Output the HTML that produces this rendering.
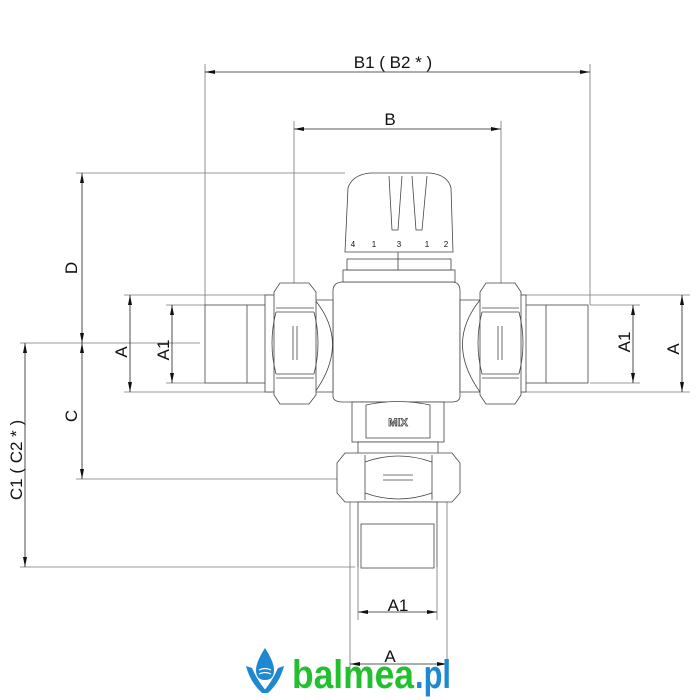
<!DOCTYPE html>
<html><head><meta charset="utf-8"><style>
body{margin:0;background:#fff;width:700px;height:700px;overflow:hidden}
svg{display:block}
text{font-family:"Liberation Sans",sans-serif}
</style></head><body>
<svg width="700" height="700" viewBox="0 0 700 700" xmlns="http://www.w3.org/2000/svg">
<defs>
<marker id="ar" viewBox="0 0 10 4" refX="10" refY="2" markerWidth="10" markerHeight="4" orient="auto-start-reverse" markerUnits="userSpaceOnUse"><path d="M0,0 L10,2 L0,4 z" fill="#111"/></marker>
</defs>
<g stroke="#777" stroke-width="0.8" fill="none">
<line x1="205" y1="64" x2="205" y2="305"/>
<line x1="590" y1="64" x2="590" y2="305"/>
<line x1="294" y1="121" x2="294" y2="290"/>
<line x1="501" y1="121" x2="501" y2="290"/>
<line x1="76" y1="173" x2="345" y2="173"/>
<line x1="20" y1="343" x2="200" y2="343"/>
<line x1="124" y1="295" x2="272" y2="295"/>
<line x1="124" y1="392" x2="272" y2="392"/>
<line x1="166" y1="305" x2="205" y2="305"/>
<line x1="166" y1="383" x2="205" y2="383"/>
<line x1="76" y1="479" x2="340" y2="479"/>
<line x1="20" y1="567" x2="355" y2="567"/>
<line x1="520" y1="295" x2="690" y2="295"/>
<line x1="520" y1="392" x2="690" y2="392"/>
<line x1="590" y1="305" x2="640" y2="305"/>
<line x1="590" y1="383" x2="640" y2="383"/>
<line x1="350" y1="500" x2="350" y2="672"/>
<line x1="447" y1="500" x2="447" y2="672"/>
<line x1="358" y1="567" x2="358" y2="620"/>
<line x1="437" y1="567" x2="437" y2="620"/>
</g>
<g stroke="#222" stroke-width="0.8" fill="none">
<line x1="205" y1="72" x2="590" y2="72" marker-start="url(#ar)" marker-end="url(#ar)"/>
<line x1="294" y1="129" x2="501" y2="129" marker-start="url(#ar)" marker-end="url(#ar)"/>
<line x1="82" y1="173" x2="82" y2="343" marker-start="url(#ar)" marker-end="url(#ar)"/>
<line x1="82" y1="343" x2="82" y2="479" marker-start="url(#ar)" marker-end="url(#ar)"/>
<line x1="25" y1="343" x2="25" y2="567" marker-start="url(#ar)" marker-end="url(#ar)"/>
<line x1="130" y1="295" x2="130" y2="392" marker-start="url(#ar)" marker-end="url(#ar)"/>
<line x1="172" y1="305" x2="172" y2="383" marker-start="url(#ar)" marker-end="url(#ar)"/>
<line x1="682" y1="295" x2="682" y2="392" marker-start="url(#ar)" marker-end="url(#ar)"/>
<line x1="633" y1="305" x2="633" y2="383" marker-start="url(#ar)" marker-end="url(#ar)"/>
<line x1="358" y1="612" x2="437" y2="612" marker-start="url(#ar)" marker-end="url(#ar)"/>
<line x1="350" y1="664" x2="447" y2="664" marker-start="url(#ar)" marker-end="url(#ar)"/>
</g>
<g stroke="#444" stroke-width="0.8" fill="#fff">
<rect x="205" y="305" width="67" height="78"/>
<line x1="247" y1="305" x2="247" y2="383"/>
<rect x="265" y="295" width="12" height="97"/>
<rect x="520" y="305" width="68" height="78"/>
<line x1="546" y1="305" x2="546" y2="383"/>
<rect x="516" y="295" width="10" height="97"/>
<path d="M333,291 Q333,282 343,282 L452,282 Q460,282 460,291 L460,396 Q460,402 452,402 L343,402 Q333,402 333,396 Z"/>
<path d="M315,300 Q350,343 315,392 L333,392 L333,300 Z"/>
<path d="M480,300 Q445,343 480,392 L460,392 L460,300 Z"/>
<rect x="343" y="270" width="112" height="12"/>
<rect x="347" y="259" width="104" height="11"/>
<path d="M345,252 L348,188 Q352,175 370,173 L430,173 Q448,175 451,188 L453,252 Z"/>
<path d="M389,176 L392,230 L398,230 L402,176" fill="none"/>
<path d="M412,176 L416,230 L422,230 L427,176" fill="none"/>
<line x1="398" y1="252" x2="398" y2="270"/>
<path d="M280,283 L309,283 L316,292 L316,395 L309,404 L280,404 L274,395 L274,292 Z"/>
<path d="M276,312 Q268,343 276,374 M314,312 Q322,343 314,374" fill="none"/>
<line x1="276" y1="312" x2="314" y2="312"/><line x1="276" y1="374" x2="314" y2="374"/>
<line x1="276" y1="308" x2="314" y2="308"/><line x1="276" y1="378" x2="314" y2="378"/>
<line x1="293" y1="326" x2="293" y2="360"/><line x1="297" y1="326" x2="297" y2="360"/>
<path d="M486,283 L515,283 L521,292 L521,395 L515,404 L486,404 L480,395 L480,292 Z"/>
<path d="M482,312 Q474,343 482,374 M519,312 Q527,343 519,374" fill="none"/>
<line x1="482" y1="312" x2="519" y2="312"/><line x1="482" y1="374" x2="519" y2="374"/>
<line x1="482" y1="308" x2="519" y2="308"/><line x1="482" y1="378" x2="519" y2="378"/>
<line x1="498" y1="326" x2="498" y2="360"/><line x1="502" y1="326" x2="502" y2="360"/>
<rect x="352" y="402" width="92" height="40"/>
<path d="M366,405 Q398,398 430,405 L430,438 L366,438 Z"/>
<rect x="358" y="442" width="80" height="12"/>
<path d="M345,453 L452,453 L460,463 L460,493 L452,502 L345,502 L337,493 L337,463 Z"/>
<line x1="365" y1="455" x2="365" y2="500"/><line x1="432" y1="455" x2="432" y2="500"/>
<path d="M365,462 Q398,450 432,462 M365,493 Q398,505 432,493" fill="none"/>
<line x1="383" y1="475" x2="413" y2="475"/><line x1="383" y1="480" x2="413" y2="480"/>
<path d="M358,567 L358,502 L437,502 L437,567" />
<rect x="361" y="524" width="73" height="44"/>
</g>
<text x="398" y="426" font-size="11" font-weight="bold" text-anchor="middle" style="fill:#fff" stroke="#333" stroke-width="0.7">MIX</text>
<g font-size="8" text-anchor="middle" style="fill:#111">
<text x="353" y="247">4</text><text x="374" y="247">1</text><text x="399" y="247">3</text><text x="427" y="247">1</text><text x="446" y="247">2</text>
</g>
<g font-size="17" style="fill:#111">
<text x="393" y="68" text-anchor="middle">B1  ( B2 * )</text>
<text x="390" y="125" text-anchor="middle">B</text>
<text x="398" y="611" text-anchor="middle">A1</text>
<text x="390" y="662" text-anchor="middle">A</text>
<text transform="translate(77,268) rotate(-90)" text-anchor="middle">D</text>
<text transform="translate(77,416) rotate(-90)" text-anchor="middle">C</text>
<text transform="translate(22,460) rotate(-90)" text-anchor="middle">C1  ( C2 * )</text>
<text transform="translate(127,352) rotate(-90)" text-anchor="middle">A</text>
<text transform="translate(169,350) rotate(-90)" text-anchor="middle">A1</text>
<text transform="translate(630,342) rotate(-90)" text-anchor="middle">A1</text>
<text transform="translate(679,349) rotate(-90)" text-anchor="middle">A</text>
</g>
<g>
<path d="M265,648 Q256,662 256,670 Q256,680 265,680 Q274,680 274,670 Q274,662 265,648 Z" fill="#1e88d0"/>
<path d="M246,666 Q250,682 262,693 L268,693 Q258,682 252,668 Z" fill="#1e88d0"/>
<path d="M284,666 Q280,682 268,693 L262,693 Q272,682 278,668 Z" fill="#1e88d0"/>
<path d="M259,670 Q265,667 271,670 M259,674 Q265,671 271,674" stroke="#fff" stroke-width="1.2" fill="none"/>
<text x="292" y="688" font-size="40" font-weight="bold" textLength="122" lengthAdjust="spacingAndGlyphs" style="fill:#22c02e">balmea</text>
<text x="415" y="688" font-size="40" font-weight="bold" textLength="36" lengthAdjust="spacingAndGlyphs" style="fill:#1e88d0">.pl</text>
</g>
</svg>
</body></html>
